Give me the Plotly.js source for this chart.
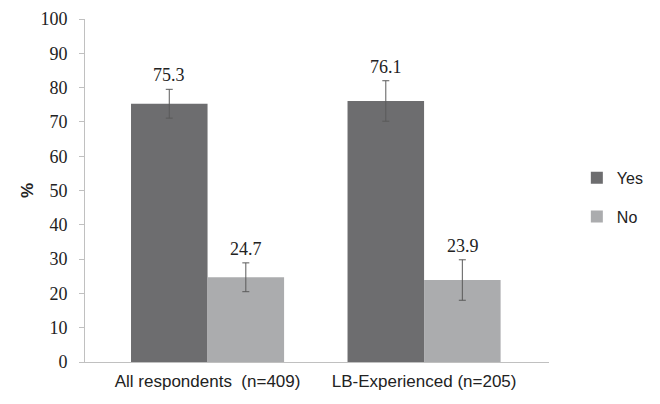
<!DOCTYPE html>
<html>
<head>
<meta charset="utf-8">
<script src="https://cdn.plot.ly/plotly-3.0.1.min.js"></script>
<style>
  body { margin: 0; background: #fff; }
  #chart { width: 660px; height: 404px; }
</style>
</head>
<body>
<div id="chart"></div>
<script>
// Chart data
const groups = ["All respondents  (n=409)", "LB-Experienced (n=205)"];
const yesValues = [75.3, 76.1];
const noValues = [24.7, 23.9];
const yesErrors = [4.2, 5.9];
const noErrors = [4.2, 5.9];
const yTicks = [0, 10, 20, 30, 40, 50, 60, 70, 80, 90, 100];

const serif = "Liberation Serif, Times New Roman, serif";
const sans = "Liberation Sans, Arial, sans-serif";

// bars sit at 0, 1 ... on a numeric axis so the group spacing can differ from the tick boundaries
const xPos = groups.map(function (g, i) { return i; });
const xRange = [-0.566, 1.577];

const errStyle = function (arr) {
    return {
        type: "data",
        array: arr,
        visible: true,
        color: "#5a5a5a",
        thickness: 1,
        width: 3.5
    };
};

const yesTrace = {
    x: xPos,
    y: yesValues,
    name: "Yes",
    type: "bar",
    legendgroup: "yes",
    marker: { color: "#6d6d6f" },
    error_y: errStyle(yesErrors),
    hoverinfo: "none"
};

const noTrace = {
    x: xPos,
    y: noValues,
    name: "No",
    type: "bar",
    legendgroup: "no",
    marker: { color: "#abacae" },
    error_y: errStyle(noErrors),
    hoverinfo: "none"
};

// value labels sit above the error bar tops
const annotations = [];
xPos.forEach(function (xv, i) {
    annotations.push({
        x: xv, y: yesValues[i] + yesErrors[i], xref: "x", yref: "y",
        text: yesValues[i].toFixed(1), showarrow: false,
        xanchor: "center", yanchor: "bottom", yshift: 2, xshift: -38.5,
        font: { family: serif, size: 18, color: "#222" }
    });
    annotations.push({
        x: xv, y: noValues[i] + noErrors[i], xref: "x", yref: "y",
        text: noValues[i].toFixed(1), showarrow: false,
        xanchor: "center", yanchor: "bottom", yshift: 2, xshift: 38.5,
        font: { family: serif, size: 18, color: "#222" }
    });
});

const layout = {
    width: 660,
    height: 404,
    paper_bgcolor: "#ffffff",
    plot_bgcolor: "#ffffff",
    margin: { l: 85, r: 111, t: 19, b: 42, pad: 0 },
    barmode: "group",
    bargap: 0.293,
    bargroupgap: 0,
    showlegend: true,
    legend: {
        xref: "container",
        yref: "paper",
        x: 0.874,
        y: 0.48,
        xanchor: "left",
        yanchor: "middle",
        font: { family: sans, size: 16, color: "#222" },
        tracegroupgap: 15,
        itemwidth: 30
    },
    xaxis: {
        range: xRange,
        tickvals: xPos,
        ticktext: groups,
        showline: true,
        linecolor: "#c0c0c0",
        linewidth: 1,
        ticks: "",
        showgrid: false,
        zeroline: false,
        fixedrange: true,
        ticklabelstandoff: 4,
        tickfont: { family: sans, size: 17, color: "#222" }
    },
    // tick marks only, at the category boundaries
    xaxis2: {
        overlaying: "x",
        anchor: "y",
        side: "bottom",
        range: xRange,
        tickvals: [xRange[0], 0.5, xRange[1]],
        ticks: "outside",
        ticklen: 5,
        tickcolor: "#c0c0c0",
        showticklabels: false,
        showline: false,
        showgrid: false,
        zeroline: false
    },
    yaxis: {
        range: [0, 100],
        tickvals: yTicks,
        showline: true,
        linecolor: "#c0c0c0",
        linewidth: 1,
        ticks: "outside",
        ticklen: 5,
        tickcolor: "#c0c0c0",
        showgrid: false,
        zeroline: false,
        ticklabelstandoff: 8,
        tickfont: { family: serif, size: 18, color: "#222" },
        title: {
            text: "<b>%</b>",
            font: { family: sans, size: 17, color: "#222" },
            standoff: 2
        }
    },
    annotations: annotations
};

Plotly.newPlot("chart", [yesTrace, noTrace], layout, { displayModeBar: false, staticPlot: true });
</script>
</body>
</html>
